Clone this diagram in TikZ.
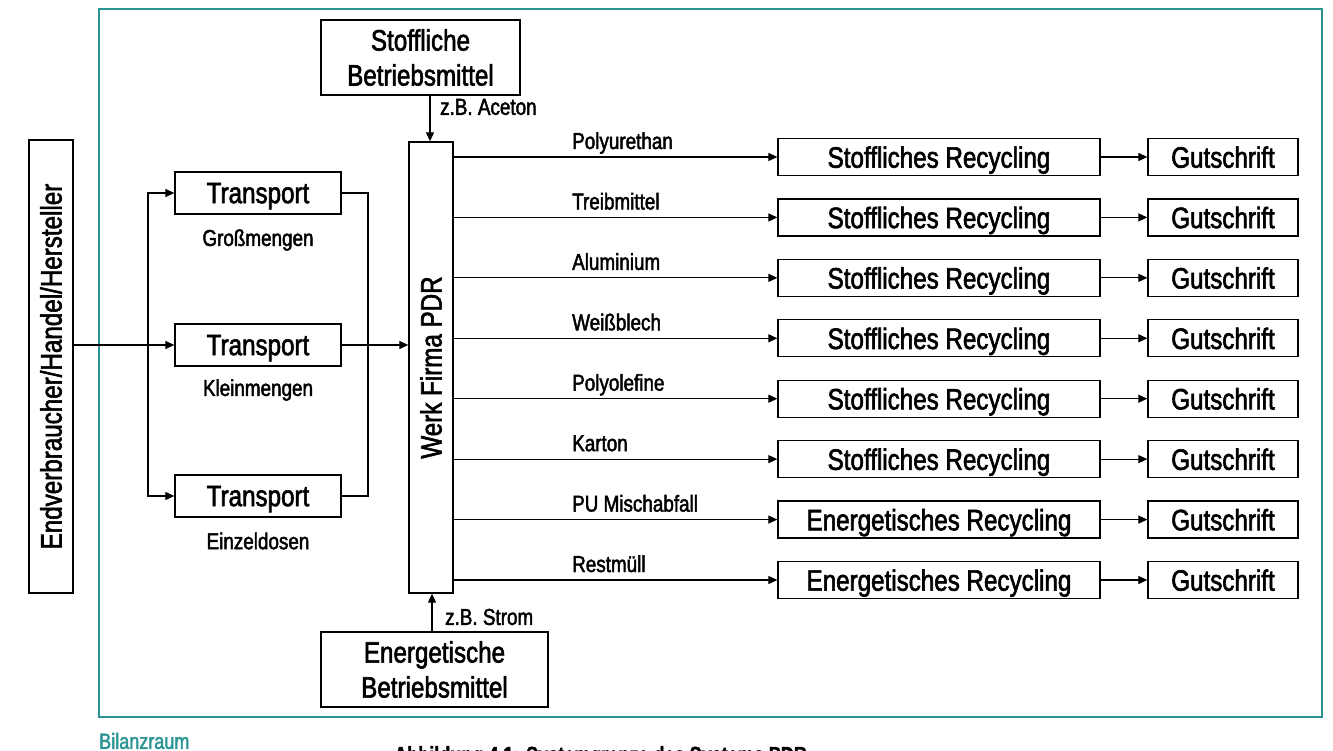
\documentclass[tikz,border=0pt]{standalone}
\usepackage{fontspec}
\setmainfont{Liberation Sans}[FakeStretch=0.82, FakeBold=2]
\usetikzlibrary{arrows.meta}
\definecolor{bilanz}{HTML}{2A9494}
\begin{document}
\begin{tikzpicture}[x=1pt,y=-1pt,
  box/.style={draw, line width=1.3pt, inner sep=0pt, align=center, font=\fontsize{29.5}{35}\selectfont},
  onebox/.style={box, text depth=0pt},
  lbl/.style={inner sep=0pt, font=\fontsize{23}{27}\selectfont},
  con/.style={line width=1.1pt, -{Triangle[length=9pt,width=8pt]}},
  ln/.style={line width=1.1pt}]
\useasboundingbox (0,0) rectangle (1333,751);
% Bilanzraum frame
\draw[bilanz, line width=1.4pt] (99,9) rectangle (1322,717);
\node[anchor=west, inner sep=0pt, text=bilanz, font=\fontsize{22}{25}\selectfont] (bil) at (99,741) {Bilanzraum};
% left column
\node[box, minimum width=44, minimum height=453] (end) at (51,366.5) {\rotatebox{90}{Endverbraucher/Handel/Hersteller}};
\node[onebox, minimum width=166, minimum height=42] (t1) at (258,193) {Transport};
\node[onebox, minimum width=166, minimum height=42] (t2) at (258,345) {Transport};
\node[onebox, minimum width=166, minimum height=42] (t3) at (258,496) {Transport};
\node[lbl] (l1) at (258,240) {Großmengen};
\node[lbl] (l2) at (258,390) {Kleinmengen};
\node[lbl] (l3) at (258,541) {Einzeldosen};
\node[box, minimum width=44, minimum height=451] (werk) at (431,367.5) {\rotatebox{90}{Werk Firma PDR}};
\node[box, minimum width=199, minimum height=75] (stoff) at (420.5,57.5) {Stoffliche\\Betriebsmittel};
\node[box, minimum width=227, minimum height=75] (energ) at (434.5,669.5) {Energetische\\Betriebsmittel};
% connectors left
\coordinate (br) at (148,345);
\coordinate (mg) at (368,345);
\draw[con] (end.east |- t2.west) -- (t2.west);
\draw[con] (br) |- (t1.west);
\draw[con] (br) |- (t3.west);
\draw[ln] (t1.east) -| (mg) |- (t3.east);
\draw[con] (t2.east) -- (werk.west |- t2.east);
% inputs
\coordinate (ac) at (430,95);
\coordinate (st) at (432,632);
\draw[con] (stoff.south -| ac) -- (werk.north -| ac);
\draw[con] (energ.north -| st) -- (werk.south -| st);
\node[lbl, anchor=west] (zba) at (440,107) {z.B. Aceton};
\node[lbl, anchor=west] (zbs) at (445,617) {z.B. Strom};
% outputs
\foreach \lab/\typ [count=\i from 0] in {Polyurethan/Stoffliches, Treibmittel/Stoffliches, Aluminium/Stoffliches, Weißblech/Stoffliches, Polyolefine/Stoffliches, Karton/Stoffliches, PU Mischabfall/Energetisches, Restmüll/Energetisches}{
  \pgfmathsetmacro\yy{157+60.43*\i}
  \node[onebox, minimum width=322, minimum height=37] (r\i) at (939,\yy) {\typ\ Recycling};
  \node[onebox, minimum width=150, minimum height=37] (g\i) at (1223,\yy) {Gutschrift};
  \draw[con] (werk.east |- r\i.west) -- (r\i.west);
  \draw[con] (r\i.east) -- (g\i.west);
  \node[lbl, anchor=base west] (o\i) at (572,\yy-8) {\lab};
}
% caption (cut off at the bottom edge, as in the original)
\begin{scope}
\clip (0,0) rectangle (1333,751);
\node[anchor=north west, inner sep=0pt, font=\bfseries\fontsize{22}{26}\selectfont] (cap) at (394,746) {Abbildung 4.1: Systemgrenze des Systems PDR};
\end{scope}
\end{tikzpicture}
\end{document}
